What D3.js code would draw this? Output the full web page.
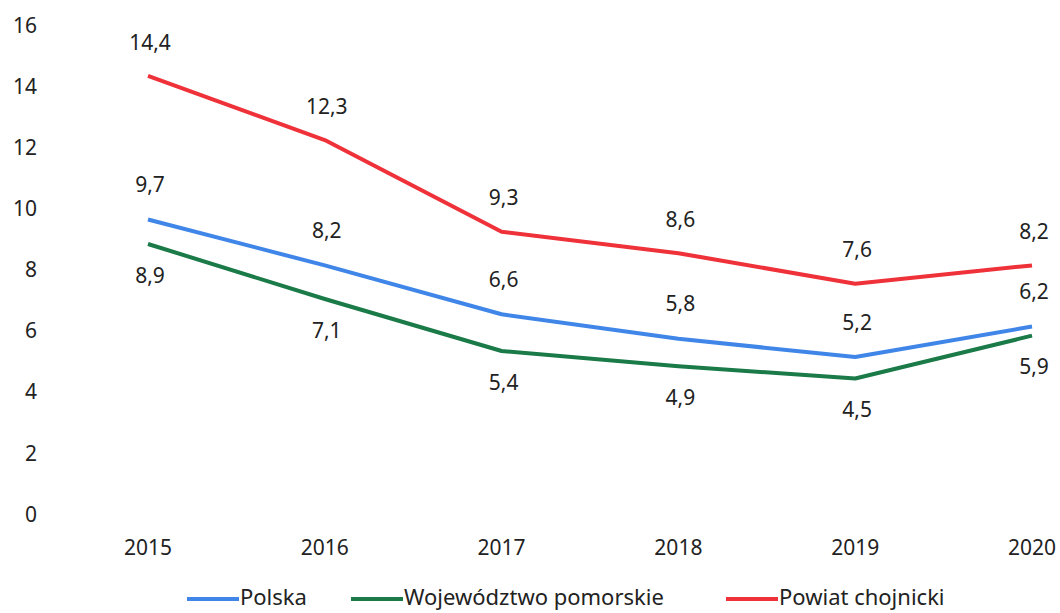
<!DOCTYPE html>
<html>
<head>
<meta charset="utf-8">
<script src="https://cdn.jsdelivr.net/npm/d3@7"></script>
<style>
  body { margin: 0; background: #fff; }
  text { font-family: "Noto Sans", "Open Sans", sans-serif; fill: #222; }
</style>
</head>
<body>
<div id="winArea"></div>
<script>
const years = ["2015", "2016", "2017", "2018", "2019", "2020"];
const polska = [9.7, 8.2, 6.6, 5.8, 5.2, 6.2];
const pomorskie = [8.9, 7.1, 5.4, 4.9, 4.5, 5.9];
const chojnicki = [14.4, 12.3, 9.3, 8.6, 7.6, 8.2];
const yTicks = [0, 2, 4, 6, 8, 10, 12, 14, 16];

const series = [
    { name: "Polska", values: polska, color: "#3F86E8", labelDy: -33 },
    { name: "Województwo pomorskie", values: pomorskie, color: "#1A7A48", labelDy: 33 },
    { name: "Powiat chojnicki", values: chojnicki, color: "#EF3139", labelDy: -32 }
];

const width = 1060, height = 613;

const svg = d3.select("#winArea")
    .append("svg")
    .attr("width", width)
    .attr("height", height);

//scales
const xScale = d3.scalePoint().domain(years).range([148, 1032]);
const yScale = d3.scaleLinear().domain([0, 16]).range([516, 27]);

//y axis labels (no line)
svg.append("g")
    .selectAll("text")
    .data(yTicks)
    .join("text")
    .attr("x", 37)
    .attr("y", d => yScale(d))
    .attr("text-anchor", "end")
    .attr("dominant-baseline", "middle")
    .style("font-size", "21px")
    .text(d => d);

//x axis labels
svg.append("g")
    .selectAll("text")
    .data(years)
    .join("text")
    .attr("x", d => xScale(d))
    .attr("y", 549)
    .attr("text-anchor", "middle")
    .attr("dominant-baseline", "middle")
    .style("font-size", "21px")
    .text(d => d);

const line = d3.line()
    .x((d, i) => xScale(years[i]))
    .y(d => yScale(d));

//lines
svg.append("g")
    .selectAll("path")
    .data(series)
    .join("path")
    .attr("d", d => line(d.values))
    .attr("fill", "none")
    .attr("stroke", d => d.color)
    .attr("stroke-width", 4)
    .attr("stroke-linejoin", "round");

//data labels
series.forEach(s => {
    svg.append("g")
        .selectAll("text")
        .data(s.values)
        .join("text")
        .attr("x", (d, i) => xScale(years[i]) + 2)
        .attr("y", d => yScale(d) + s.labelDy)
        .attr("text-anchor", "middle")
        .attr("dominant-baseline", "middle")
        .style("font-size", "21px")
        .text(d => String(d).replace(".", ","));
});

//legend
const legendX = [187, 351, 726];
const legend = svg.append("g")
    .selectAll("g")
    .data(series)
    .join("g")
    .attr("transform", (d, i) => `translate(${legendX[i]}, 599)`);

legend.append("line")
    .attr("x1", 0)
    .attr("x2", 52)
    .attr("stroke", d => d.color)
    .attr("stroke-width", 4);

legend.append("text")
    .attr("x", 53)
    .attr("y", 0)
    .attr("dominant-baseline", "middle")
    .style("font-size", "22px")
    .text(d => d.name);
</script>
</body>
</html>
